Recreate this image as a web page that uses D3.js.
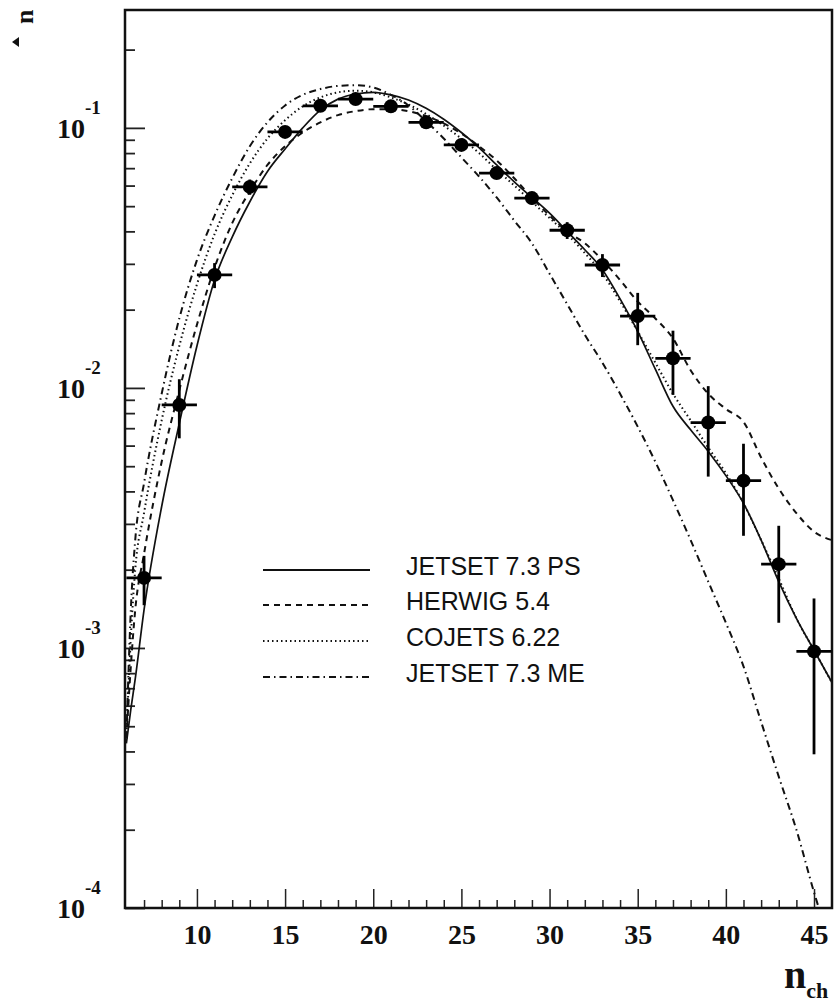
<!DOCTYPE html>
<html lang="en">
  <head>
    <meta charset="UTF-8" />
    <title>Charged multiplicity distribution</title>
    <script src="https://d3js.org/d3.v7.min.js"></script>
    <style>
      body {
        margin: 0;
        padding: 0;
        background-color: #ffffff;
      }
      .tick-label {
        font-family: "Liberation Serif", "DejaVu Serif", serif;
        font-weight: bold;
        fill: #111;
      }
      .legend-text {
        font-family: "Liberation Sans", Arial, sans-serif;
        font-size: 25px;
        fill: #111;
      }
    </style>
  </head>
  <body>
    <div id="chart"></div>

    <script>
      const width = 835;
      const height = 1003;

      // model curves, sampled at these n values
      const curveN = [6, 6.25, 6.5, 7, 8, 9, 10, 11, 12, 13, 14, 15, 16, 17, 18, 19, 20, 21,
        22, 23, 24, 25, 26, 27, 28, 29, 30, 31, 32, 33, 34, 35, 36, 37, 38, 39, 40, 41, 42,
        43, 44, 45, 46];

      const jetsetPS = [4.3e-4, 5.8e-4, 7.6e-4, 1.4e-3, 3.5e-3, 7.3e-3, 0.0145, 0.026, 0.038,
        0.052, 0.068, 0.083, 0.1, 0.117, 0.129, 0.135, 0.137, 0.134, 0.128, 0.119, 0.108,
        0.096, 0.084, 0.072, 0.062, 0.054, 0.047, 0.04, 0.034, 0.0285, 0.022, 0.0165, 0.0118,
        0.0085, 0.0069, 0.0057, 0.0046, 0.0036, 0.0026, 0.0018, 0.0013, 0.00098, 0.00074];

      const herwig = [4.5e-4, 8.5e-4, 1.4e-3, 2.3e-3, 5.2e-3, 0.0098, 0.0175, 0.029, 0.043,
        0.057, 0.072, 0.085, 0.096, 0.105, 0.112, 0.116, 0.118, 0.118, 0.116, 0.111, 0.104,
        0.095, 0.085, 0.075, 0.064, 0.054, 0.046, 0.04, 0.036, 0.031, 0.026, 0.0215, 0.0185,
        0.0155, 0.0117, 0.0095, 0.0083, 0.0074, 0.0054, 0.0041, 0.0033, 0.0028, 0.0026];

      const cojets = [4.5e-4, 1.1e-3, 2.0e-3, 3.3e-3, 7.5e-3, 0.0145, 0.025, 0.039, 0.055,
        0.073, 0.091, 0.107, 0.121, 0.131, 0.137, 0.139, 0.137, 0.131, 0.123, 0.113, 0.102,
        0.091, 0.08, 0.069, 0.06, 0.052, 0.045, 0.039, 0.033, 0.0275, 0.0215, 0.0165, 0.0125,
        0.0095, 0.0075, 0.0059, 0.0047, 0.0036, 0.0026, 0.00185, 0.0013, 0.00098, 0.00074];

      const jetsetME = [4.5e-4, 1.4e-3, 2.6e-3, 4.3e-3, 9.5e-3, 0.0185, 0.031, 0.046, 0.064,
        0.085, 0.105, 0.122, 0.134, 0.141, 0.145, 0.146, 0.143, 0.134, 0.122, 0.106, 0.091,
        0.077, 0.065, 0.054, 0.044, 0.036, 0.0275, 0.021, 0.016, 0.0125, 0.0095, 0.0071,
        0.0052, 0.0037, 0.0026, 0.0018, 0.00125, 0.00085, 0.00052, 0.00032, 0.0002,
        0.000115, 0.00007];

      // measured points
      const dataN = [7, 9, 11, 13, 15, 17, 19, 21, 23, 25, 27, 29, 31, 33, 35, 37, 39, 41, 43, 45];
      const dataVal = [1.86e-3, 8.6e-3, 0.0272, 0.0593, 0.0965, 0.1216, 0.129, 0.121, 0.105,
        0.086, 0.067, 0.0537, 0.0404, 0.0297, 0.0189, 0.013, 0.00736, 0.0044, 0.0021, 0.00097];
      const dataErr = [4e-4, 2.2e-3, 3e-3, 4e-3, 5e-3, 5e-3, 5e-3, 4e-3, 4e-3, 3.5e-3, 3e-3,
        3e-3, 3e-3, 3e-3, 4.3e-3, 3.6e-3, 2.8e-3, 1.7e-3, 8.5e-4, 5.8e-4];
      const binHalf = 1;

      const xMajor = [10, 15, 20, 25, 30, 35, 40, 45];
      const xMinor = [7, 8, 9, 11, 12, 13, 14, 16, 17, 18, 19, 21, 22, 23, 24, 26, 27, 28, 29,
        31, 32, 33, 34, 36, 37, 38, 39, 41, 42, 43, 44];
      const yDecades = [1e-4, 1e-3, 1e-2, 1e-1];
      const yExponents = ["-4", "-3", "-2", "-1"];

      const legendNames = ["JETSET 7.3 PS", "HERWIG 5.4", "COJETS 6.22", "JETSET 7.3 ME"];
      const legendDash = [null, "6,5", "1.5,3", "7,4,1.5,4"];
      const curves = [jetsetPS, herwig, cojets, jetsetME];

      const plot = { left: 125, right: 832, top: 10, bottom: 908 };

      const x = d3.scaleLinear().domain([5.92, 46.02]).range([plot.left, plot.right]);
      const y = d3.scaleLog().domain([1e-4, 0.284]).range([plot.bottom, plot.top]);

      const svg = d3
        .select("#chart")
        .append("svg")
        .attr("width", width)
        .attr("height", height)
        .style("background", "#fff");

      svg
        .append("clipPath")
        .attr("id", "clip")
        .append("rect")
        .attr("x", plot.left)
        .attr("y", plot.top)
        .attr("width", plot.right - plot.left)
        .attr("height", plot.bottom - plot.top);

      // x axis, ticks pointing inward
      const xAxis = svg.append("g").attr("transform", `translate(0,${plot.bottom})`);
      xAxis
        .call(d3.axisBottom(x).tickValues(xMinor).tickSizeInner(-8).tickSizeOuter(0).tickFormat(""))
        .call((g) => g.select(".domain").remove());
      xAxis.selectAll("line").attr("stroke", "#222").attr("stroke-width", 1.5);

      const xAxisMajor = svg.append("g").attr("transform", `translate(0,${plot.bottom})`);
      xAxisMajor
        .call(d3.axisBottom(x).tickValues(xMajor).tickSizeInner(-19).tickSizeOuter(0).tickPadding(16))
        .call((g) => g.select(".domain").remove());
      xAxisMajor.selectAll("line").attr("stroke", "#222").attr("stroke-width", 1.5);
      xAxisMajor
        .selectAll("text")
        .attr("class", "tick-label")
        .attr("font-size", 28)
        .attr("fill", "#111");

      // y axis minor ticks
      const yMinor = [];
      yDecades.forEach((d) => {
        for (let k = 2; k <= 9; k++) {
          if (d * k < 0.284) yMinor.push(d * k);
        }
      });
      const yAxis = svg.append("g").attr("transform", `translate(${plot.left},0)`);
      yAxis
        .call(d3.axisLeft(y).tickValues(yMinor).tickSizeInner(-10).tickSizeOuter(0).tickFormat(""))
        .call((g) => g.select(".domain").remove());
      yAxis.selectAll("line").attr("stroke", "#222").attr("stroke-width", 1.8);

      const yAxisMajor = svg.append("g").attr("transform", `translate(${plot.left},0)`);
      yAxisMajor
        .call(d3.axisLeft(y).tickValues(yDecades).tickSizeInner(-20).tickSizeOuter(0).tickFormat(""))
        .call((g) => g.select(".domain").remove());
      yAxisMajor.selectAll("line").attr("stroke", "#222").attr("stroke-width", 1.8);

      // y labels 10^n
      yDecades.forEach((d, i) => {
        const t = svg
          .append("text")
          .attr("class", "tick-label")
          .attr("x", 57)
          .attr("y", y(d) + 10)
          .attr("font-size", 28);
        t.append("tspan").text("10");
        t.append("tspan").attr("dy", -24).attr("font-size", 19).text(yExponents[i]);
      });

      // frame
      svg
        .append("rect")
        .attr("x", plot.left)
        .attr("y", plot.top)
        .attr("width", plot.right - plot.left)
        .attr("height", plot.bottom - plot.top)
        .attr("fill", "none")
        .attr("stroke", "#111")
        .attr("stroke-width", 2.5);

      // model curves
      const line = d3
        .line()
        .x((d) => x(d[0]))
        .y((d) => y(d[1]))
        .curve(d3.curveMonotoneX);

      const curveGroup = svg.append("g").attr("clip-path", "url(#clip)");
      curves.forEach((vals, i) => {
        curveGroup
          .append("path")
          .datum(curveN.map((n, j) => [n, vals[j]]))
          .attr("d", line)
          .attr("fill", "none")
          .attr("stroke", "#111")
          .attr("stroke-width", i === 0 ? 1.7 : 2)
          .attr("stroke-dasharray", legendDash[i]);
      });

      // data points with error bars
      const pts = svg
        .append("g")
        .selectAll("g")
        .data(dataN.map((n, i) => ({ n, v: dataVal[i], e: dataErr[i] })))
        .enter()
        .append("g");

      pts
        .append("line")
        .attr("x1", (d) => x(d.n))
        .attr("x2", (d) => x(d.n))
        .attr("y1", (d) => y(d.v + d.e))
        .attr("y2", (d) => y(d.v - d.e))
        .attr("stroke", "#000")
        .attr("stroke-width", 2.8);

      pts
        .append("line")
        .attr("x1", (d) => x(d.n - binHalf))
        .attr("x2", (d) => x(d.n + binHalf))
        .attr("y1", (d) => y(d.v))
        .attr("y2", (d) => y(d.v))
        .attr("stroke", "#000")
        .attr("stroke-width", 2.8);

      pts
        .append("circle")
        .attr("cx", (d) => x(d.n))
        .attr("cy", (d) => y(d.v))
        .attr("r", 7)
        .attr("fill", "#000");

      // legend
      const legendRows = [566, 601, 637, 673];
      legendNames.forEach((name, i) => {
        svg
          .append("line")
          .attr("x1", 263)
          .attr("x2", 370)
          .attr("y1", legendRows[i] + 4)
          .attr("y2", legendRows[i] + 4)
          .attr("stroke", "#111")
          .attr("stroke-width", 2)
          .attr("stroke-dasharray", legendDash[i]);
        svg
          .append("text")
          .attr("class", "legend-text")
          .attr("x", 406)
          .attr("y", legendRows[i] + 9)
          .text(name);
      });

      // axis titles
      const xt = svg
        .append("text")
        .attr("class", "tick-label")
        .attr("x", 784)
        .attr("y", 988)
        .attr("font-size", 40);
      xt.append("tspan").text("n");
      xt.append("tspan").attr("dy", 10).attr("font-size", 22).text("ch");

      svg
        .append("text")
        .attr("class", "tick-label")
        .attr("transform", "translate(33,24) rotate(-90)")
        .attr("font-size", 26)
        .text("n");
      svg
        .append("path")
        .attr("d", "M12,42 L19,37 L19,47 Z")
        .attr("fill", "#111");
    </script>
  </body>
</html>
